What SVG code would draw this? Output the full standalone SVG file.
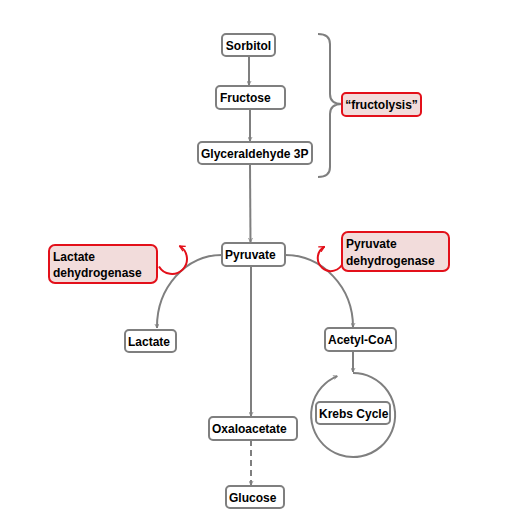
<svg xmlns="http://www.w3.org/2000/svg" width="508" height="522" viewBox="0 0 508 522">
<style>
.box{fill:#fff;stroke:#7f7f7f;stroke-width:2}
.rbox{fill:#f2dcdb;stroke:#e3101a;stroke-width:2}
.t{font-family:"Liberation Sans",Arial,sans-serif;font-weight:bold;font-size:12px;fill:#000}
.c{fill:none;stroke:#7f7f7f;stroke-width:2}
.r{fill:none;stroke:#e3101a;stroke-width:2}
</style>
<defs>
<marker id="ag" viewBox="0 0 10 10" refX="9" refY="5" markerWidth="5" markerHeight="5" orient="auto" markerUnits="userSpaceOnUse">
<polyline points="1,1 9,5 1,9" fill="none" stroke="#7f7f7f" stroke-width="1.6"/>
</marker>
<marker id="ar" viewBox="0 0 10 10" refX="9" refY="5" markerWidth="7" markerHeight="7" orient="auto" markerUnits="userSpaceOnUse">
<polyline points="1,1 9,5 1,9" fill="none" stroke="#e3101a" stroke-width="1.8"/>
</marker>
</defs>
<rect width="508" height="522" fill="#fff"/>
<g id="connectors">
<line class="c" x1="249" y1="56" x2="249" y2="85" marker-end="url(#ag)"/>
<line class="c" x1="250" y1="109" x2="250" y2="141" marker-end="url(#ag)"/>
<line class="c" x1="250" y1="164" x2="250.5" y2="242" marker-end="url(#ag)"/>
<path class="c" d="M222 255 A65 72 0 0 0 157 328" marker-end="url(#ag)"/>
<path class="c" d="M285 255 A68 72 0 0 1 353 327" marker-end="url(#ag)"/>
<line class="c" x1="251" y1="266" x2="251" y2="416" marker-end="url(#ag)"/>
<line class="c" x1="251" y1="440" x2="251" y2="485" stroke-dasharray="6,4" marker-end="url(#ag)"/>
<line class="c" x1="353" y1="351" x2="353" y2="372" marker-end="url(#ag)"/>
<path class="c" d="M353 373 A42 42 0 1 1 337.3 376.1" marker-end="url(#ag)"/>
<path class="c" d="M318 34 Q330 34 330 44 L330 94 Q330 104 342 104 Q330 104 330 114 L330 167 Q330 177 318 177"/>
<path class="r" d="M159 266.5 A15 15 0 1 0 179.5 246" marker-end="url(#ar)"/>
<path class="r" d="M343 262.5 A13 13 0 1 1 324.5 246.7" marker-end="url(#ar)"/>
</g>
<g id="sorbitol"><rect class="box" x="222" y="34" width="53" height="22" rx="4"/><text class="t" x="248.5" y="49.5" text-anchor="middle">Sorbitol</text></g>
<g id="fructose"><rect class="box" x="216" y="86" width="69" height="23" rx="4"/><text class="t" x="220" y="102">Fructose</text></g>
<g id="g3p"><rect class="box" x="198" y="142" width="114" height="22" rx="4"/><text class="t" x="201" y="158">Glyceraldehyde  3P</text></g>
<g id="fructolysis"><rect class="rbox" x="342" y="93" width="79" height="23" rx="4"/><text class="t" x="381.5" y="109" text-anchor="middle">“fructolysis”</text></g>
<g id="pyruvate"><rect class="box" x="222" y="243" width="63" height="23" rx="4"/><text class="t" x="225" y="259">Pyruvate</text></g>
<g id="ldh"><rect class="rbox" x="49" y="245" width="108" height="38" rx="6"/><text class="t" x="53" y="261">Lactate</text><text class="t" x="53" y="277">dehydrogenase</text></g>
<g id="pdh"><rect class="rbox" x="342" y="232" width="107" height="39" rx="6"/><text class="t" x="346" y="248">Pyruvate</text><text class="t" x="346" y="265">dehydrogenase</text></g>
<g id="lactate"><rect class="box" x="125" y="330" width="51" height="22" rx="4"/><text class="t" x="128" y="346">Lactate</text></g>
<g id="acetylcoa"><rect class="box" x="325" y="328" width="71" height="23" rx="4"/><text class="t" x="328" y="344">Acetyl-CoA</text></g>
<g id="krebs"><rect class="box" x="316" y="402" width="74" height="22" rx="4"/><text class="t" x="319" y="418">Krebs Cycle</text></g>
<g id="oxaloacetate"><rect class="box" x="209" y="417" width="88" height="23" rx="4"/><text class="t" x="212" y="433">Oxaloacetate</text></g>
<g id="glucose"><rect class="box" x="226" y="486" width="58" height="22" rx="4"/><text class="t" x="229" y="502">Glucose</text></g>
</svg>
